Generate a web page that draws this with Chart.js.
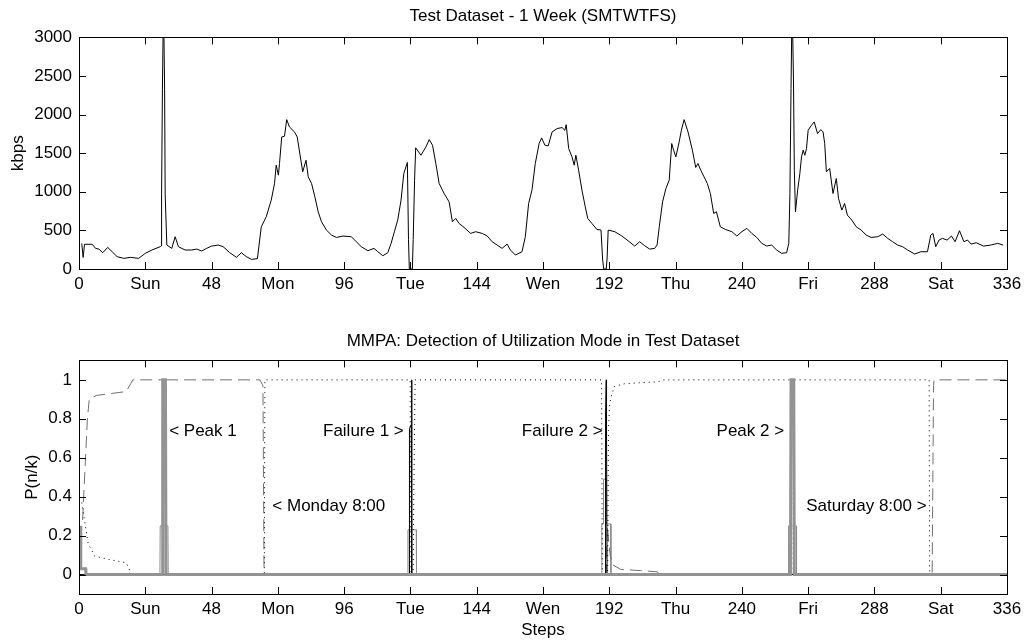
<!DOCTYPE html>
<html>
<head>
<meta charset="utf-8">
<script src="https://cdn.jsdelivr.net/npm/chart.js@4.4.0/dist/chart.umd.min.js"></script>
<style>
  html, body { margin: 0; padding: 0; background: #fff; }
  #top { position: absolute; left: 0; top: 0; width: 1033px; height: 300px; }
  #bottom { position: absolute; left: 0; top: 300px; width: 1033px; height: 341px; }
</style>
</head>
<body>
<div id="top"><canvas id="trafficChart"></canvas></div>
<div id="bottom"><canvas id="modeChart"></canvas></div>
<script>
// x axis: 30-minute steps, 336 steps = one week
const stepTicks = [0, 24, 48, 72, 96, 120, 144, 168, 192, 216, 240, 264, 288, 312, 336];
const stepLabels = ['0', 'Sun', '48', 'Mon', '96', 'Tue', '144', 'Wen', '192', 'Thu', '240', 'Fri', '288', 'Sat', '336'];
const kbpsTicks = [0, 500, 1000, 1500, 2000, 2500, 3000];
const probTicks = [0, 0.2, 0.4, 0.6, 0.8, 1];

// [step, kbps]
const traffic = [
  [1.0,330],[1.5,150],[2.0,320],[4.8,320],[6.0,267],[7.2,258],[8.6,211],[10.4,280],[12.0,224],[13.8,160],
  [16.2,138],[18.6,151],[21.6,138],[24.0,203],[26.4,246],[29.4,289],[29.7,300],[29.9,970],[30.2,2320],
  [30.6,3500],[31.0,2320],[31.2,970],[31.8,310],[33.6,267],[34.8,418],[36.0,289],[38.4,246],[40.8,246],
  [42.6,258],[44.4,233],[46.2,267],[48.0,297],[50.4,310],[52.2,289],[54.6,211],[57.0,151],[58.8,211],
  [60.6,160],[62.4,125],[64.6,134],[66.0,547],[67.8,677],[69.6,892],[70.8,1108],[71.4,1345],[72.2,1215],
  [72.6,1366],[73.4,1711],[74.4,1720],[75.2,1935],[76.2,1840],[78.0,1776],[79.0,1711],[81.0,1259],
  [82.2,1409],[83.0,1194],[84.2,1108],[85.4,935],[86.6,741],[87.8,612],[89.6,504],[91.4,440],[93.2,409],
  [95.6,427],[98.6,418],[100.4,353],[102.2,289],[104.6,237],[106.8,267],[108.2,224],[110.0,172],[111.8,211],
  [113.0,332],[114.2,483],[115.4,634],[116.6,892],[117.6,1237],[118.9,1380],[119.3,380],[119.6,0],[120.7,0],
  [121.0,380],[121.5,1150],[121.9,1570],[123.8,1474],[125.6,1580],[126.8,1676],[128.0,1603],[129.2,1366],
  [130.4,1108],[132.2,978],[134.0,870],[135.2,612],[136.4,655],[137.6,590],[139.4,539],[141.8,461],
  [143.6,483],[146.0,461],[147.8,427],[149.6,353],[151.4,310],[153.2,267],[155.0,323],[156.2,246],
  [158.0,181],[160.4,224],[161.6,418],[162.8,849],[164.0,1021],[165.2,1366],[166.6,1625],[167.5,1698],
  [168.7,1603],[169.9,1595],[171.3,1776],[173.1,1819],[174.9,1832],[175.9,1797],[176.4,1870],[177.3,1560],
  [178.5,1452],[179.3,1345],[179.9,1474],[180.9,1280],[182.1,1021],[183.3,806],[184.2,655],[185.7,590],
  [187.5,513],[189.0,504],[189.6,116],[190.0,0],[190.9,0],[191.2,130],[191.6,504],[194.0,483],[196.4,431],
  [198.8,366],[201.2,297],[203.0,353],[204.8,302],[206.6,258],[208.4,267],[209.3,310],[210.1,547],
  [211.3,870],[212.5,1043],[213.7,1151],[214.6,1625],[215.3,1539],[216.1,1452],[217.3,1646],[218.1,1797],
  [219.1,1935],[220.5,1776],[222.1,1539],[223.3,1315],[224.1,1366],[225.1,1280],[226.3,1194],[227.5,1108],
  [228.6,978],[229.8,720],[230.8,741],[232.2,547],[234.0,513],[236.4,483],[238.2,427],[240.0,483],
  [241.8,526],[243.6,461],[245.4,409],[247.2,332],[249.0,297],[250.8,310],[252.6,246],[254.4,203],
  [256.2,211],[257.0,332],[257.4,978],[257.8,2336],[258.2,3500],[258.7,2422],[259.0,1280],[259.4,741],
  [260.2,1021],[261.0,1237],[261.6,1452],[262.2,1539],[262.8,1474],[263.4,1560],[264.0,1797],[265.2,1862],
  [266.2,1905],[267.4,1754],[268.6,1805],[269.4,1776],[270.0,1625],[270.6,1259],[271.8,1302],[273.0,978],
  [274.2,1172],[275.0,914],[276.2,763],[277.2,849],[278.2,698],[279.8,634],[281.4,547],[283.2,504],
  [285.0,440],[286.8,409],[289.2,418],[291.0,453],[292.8,397],[294.6,353],[296.4,310],[298.2,289],
  [300.0,246],[302.6,194],[304.8,224],[307.2,224],[308.4,440],[309.2,461],[310.2,289],[311.4,375],
  [312.6,397],[314.3,375],[315.9,427],[317.2,353],[318.8,496],[320.4,353],[321.7,375],[323.0,323],
  [324.9,340],[327.5,297],[330.1,310],[332.6,332],[334.6,310]
];

// [step, P(n/k)] for each mode
const peakMode = [
  [0.6,0.25],[0.65,0.03],[2.4,0.03],[2.5,0],[30.1,0],[30.3,1],[31.3,1],[31.5,0],
  [257.6,0],[257.8,1],[258.8,1],[259.0,0],[336,0]
];
const lowMode = [
  [29.3,0],[29.4,0.25],[32.2,0.25],[32.3,0],[119.0,0],[119.1,0.23],[122.1,0.23],[122.2,0],
  [189.2,0],[189.3,0.26],[189.8,0.26],[189.9,0.49],[190.9,0.49],[191.0,0.26],[192.5,0.26],[192.6,0],
  [256.8,0],[256.9,0.25],[259.7,0.25],[259.8,0]
];
const failureMode = [
  [0,0],[119.6,0],[119.65,0.75],[120.3,0.77],[120.4,1],[120.5,0.75],[120.55,0],
  [190.5,0],[190.6,0.5],[190.7,0.83],[190.9,1],[191.0,0.74],[191.2,0],[336,0]
];
const dayMode = [
  [1.0,0.37],[2.2,0.26],[3.3,0.16],[5.7,0.094],[11.1,0.077],[17.1,0.06],[18.5,0.017],[19.0,0],
  [67.1,0],[67.3,1],[119.9,1],[120.1,0.23],[120.2,0],[121.0,0],[121.1,0.23],[121.5,0.77],[121.7,1],
  [189.2,1],[189.5,0],[191.4,0],[191.7,0.74],[192.1,0.87],[192.6,0.91],[193.8,0.966],[197.4,0.98],
  [203.0,0.985],[209.4,0.99],[211.8,1],[257.9,1],[258.0,0],[258.6,0],[258.7,1],
  [307.8,1],[308.0,0],[336,0]
];
const nightMode = [
  [1.3,0.28],[3.0,0.79],[3.7,0.9],[6.3,0.92],[17.1,0.94],[18.7,0.98],[19.5,1],
  [30.2,1],[30.4,0],[31.3,0],[31.5,1],[65.5,1],[66.6,0.97],[67.0,0],
  [190.9,0],[191.3,0.25],[192.0,0.14],[192.4,0.094],[193.2,0.05],[196.2,0.026],[201.0,0.022],
  [203.4,0.02],[209.4,0.014],[210.0,0],[308.9,0],[309.4,0.97],[309.6,1],[336,1]
];

// text labels in the bottom plot
const notes = [
  { text: '< Peak 1', x: 32.65, y: 0.735, align: 'left' },
  { text: 'Failure 1 >', x: 117.6, y: 0.735, align: 'right' },
  { text: '< Monday 8:00', x: 70.0, y: 0.35, align: 'left' },
  { text: 'Failure 2 >', x: 189.6, y: 0.735, align: 'right' },
  { text: 'Peak 2 >', x: 255.3, y: 0.735, align: 'right' },
  { text: 'Saturday 8:00 >', x: 306.9, y: 0.35, align: 'right' }
];

const FONT = "'Liberation Sans', Arial, sans-serif";
const TXT = 17;
const toXY = pairs => pairs.map(p => ({ x: p[0], y: p[1] }));

// kotak + tick ke dalam ala MATLAB
const matlabBox = {
  id: 'matlabBox',
  afterDatasetsDraw(chart) {
    const { ctx, chartArea: a, scales: { x, y } } = chart;
    const len = 7;
    ctx.save();
    ctx.strokeStyle = '#000';
    ctx.lineWidth = 1;
    ctx.beginPath();
    x.ticks.forEach(t => {
      const px = Math.round(x.getPixelForValue(t.value)) + 0.5;
      ctx.moveTo(px, a.bottom); ctx.lineTo(px, a.bottom - len);
      ctx.moveTo(px, a.top); ctx.lineTo(px, a.top + len);
    });
    y.ticks.forEach(t => {
      const py = Math.round(y.getPixelForValue(t.value)) + 0.5;
      ctx.moveTo(a.left, py); ctx.lineTo(a.left + len, py);
      ctx.moveTo(a.right, py); ctx.lineTo(a.right - len, py);
    });
    ctx.stroke();
    ctx.strokeRect(Math.round(a.left) + 0.5, Math.round(a.top) + 0.5,
      Math.round(a.right - a.left), Math.round(a.bottom - a.top));
    ctx.restore();
  }
};

const noteLabels = {
  id: 'noteLabels',
  afterDatasetsDraw(chart) {
    const { ctx, scales: { x, y } } = chart;
    ctx.save();
    ctx.fillStyle = '#000';
    ctx.font = TXT + 'px ' + FONT;
    ctx.textBaseline = 'middle';
    notes.forEach(n => {
      ctx.textAlign = n.align;
      ctx.fillText(n.text, x.getPixelForValue(n.x), y.getPixelForValue(n.y));
    });
    ctx.restore();
  }
};

function xScale(withTitle) {
  return {
    type: 'linear',
    min: 0,
    max: 336,
    grid: { display: false, drawTicks: false },
    border: { display: false },
    afterBuildTicks: s => { s.ticks = stepTicks.map(v => ({ value: v })); },
    afterFit: s => { s.height = withTitle ? 47 : 31; },
    ticks: {
      padding: 5,
      autoSkip: false,
      maxRotation: 0,
      color: '#000',
      font: { family: FONT, size: TXT },
      callback: v => stepLabels[stepTicks.indexOf(v)]
    },
    title: {
      display: withTitle,
      text: 'Steps',
      color: '#000',
      font: { family: FONT, size: TXT },
      padding: { top: 0, bottom: 0 }
    }
  };
}

function baseOptions(titleText, titlePad) {
  return {
    responsive: true,
    maintainAspectRatio: false,
    animation: false,
    events: [],
    layout: { padding: { left: 0, right: 26, top: 0, bottom: 0 } },
    plugins: {
      legend: { display: false },
      tooltip: { enabled: false },
      title: {
        display: true,
        fullSize: false,
        text: titleText,
        color: '#000',
        font: { family: FONT, size: 17, weight: 'normal', lineHeight: 1.2 },
        padding: titlePad
      }
    },
    elements: { point: { radius: 0 }, line: { tension: 0 } }
  };
}

// grafik atas: trafik
const topOpts = baseOptions('Test Dataset - 1 Week (SMTWTFS)', { top: 6, bottom: 11 });
topOpts.scales = {
  x: xScale(false),
  y: {
    min: 0,
    max: 3000,
    grid: { display: false, drawTicks: false },
    border: { display: false },
    afterBuildTicks: s => { s.ticks = kbpsTicks.map(v => ({ value: v })); },
    afterFit: s => { s.width = 79; },
    ticks: { padding: 7, color: '#000', font: { family: FONT, size: TXT }, callback: v => String(v) },
    title: { display: true, text: 'kbps', color: '#000', font: { family: FONT, size: TXT }, padding: { top: 8, bottom: 0 } }
  }
};

new Chart(document.getElementById('trafficChart'), {
  type: 'line',
  data: {
    datasets: [{
      data: toXY(traffic),
      borderColor: '#000',
      borderWidth: 1,
      pointRadius: 0
    }]
  },
  options: topOpts,
  plugins: [matlabBox]
});

// grafik bawah: probabilitas mode (garis abu tebal paling atas, seperti garis dasar di referensi)
const botOpts = baseOptions('MMPA: Detection of Utilization Mode in Test Dataset', { top: 31, bottom: 9 });
botOpts.scales = {
  x: xScale(true),
  y: {
    min: -0.1,
    max: 1.1,
    grid: { display: false, drawTicks: false },
    border: { display: false },
    afterBuildTicks: s => { s.ticks = probTicks.map(v => ({ value: v })); },
    afterFit: s => { s.width = 79; },
    ticks: {
      padding: 7,
      color: '#000',
      font: { family: FONT, size: TXT },
      callback: v => String(+v.toFixed(1))
    },
    title: { display: true, text: 'P(n/k)', color: '#000', font: { family: FONT, size: TXT }, padding: { top: 22, bottom: 0 } }
  }
};

new Chart(document.getElementById('modeChart'), {
  type: 'line',
  data: {
    datasets: [
      { label: 'peak', data: toXY(peakMode), borderColor: '#939393', borderWidth: 3, order: 1 },
      { label: 'failure', data: toXY(failureMode), borderColor: '#000', borderWidth: 1, order: 2 },
      { label: 'day', data: toXY(dayMode), borderColor: '#000', borderWidth: 1, borderDash: [1, 4], order: 3 },
      { label: 'night', data: toXY(nightMode), borderColor: '#707070', borderWidth: 1, borderDash: [12, 6], order: 4 },
      { label: 'low', data: toXY(lowMode), borderColor: '#8c8c8c', borderWidth: 1, order: 5 }
    ]
  },
  options: botOpts,
  plugins: [matlabBox, noteLabels]
});
</script>
</body>
</html>
